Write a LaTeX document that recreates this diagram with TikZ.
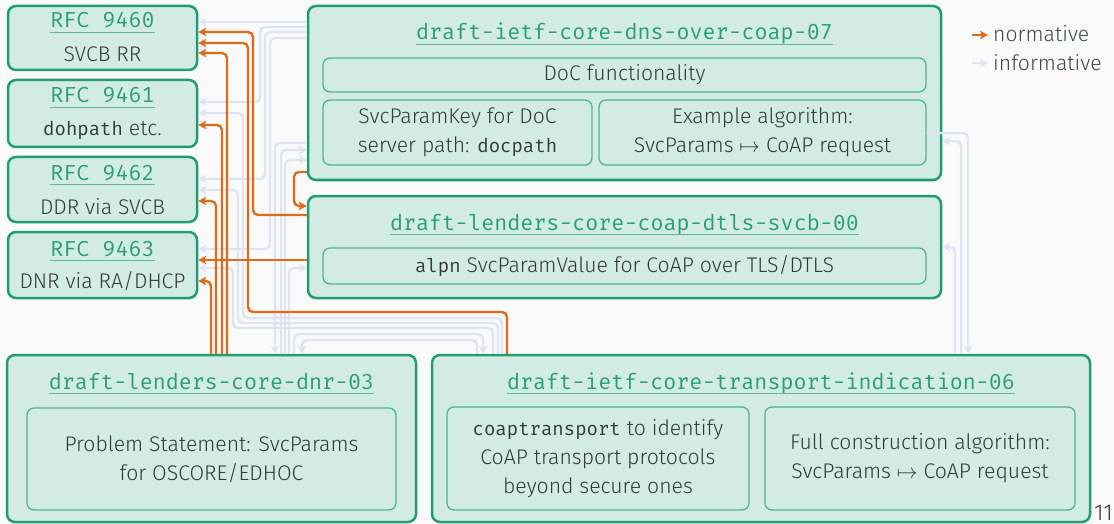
\documentclass[tikz,border=0pt]{standalone}
\usepackage{fontspec}
\usetikzlibrary{arrows.meta}
\IfFontExistsTF{Fira Sans Light}{\setmainfont{Fira Sans Light}}{\setmainfont{Fira Sans}}
\IfFontExistsTF{Fira Mono}{\newfontfamily\monof{Fira Mono}}{\newfontfamily\monof{DejaVu Sans Mono}}
\definecolor{bgc}{HTML}{FAFAFA}
\definecolor{gfill}{HTML}{D2ECE3}
\definecolor{gborder}{HTML}{229C73}
\definecolor{iborder}{HTML}{4DB68F}
\definecolor{tgreen}{HTML}{2A9F77}
\definecolor{txt}{HTML}{333A3A}
\definecolor{legc}{HTML}{3E4A4C}
\definecolor{corange}{HTML}{DF6A17}
\definecolor{cinfo}{HTML}{E0E4F2}
\newcommand\bodyfont{\fontsize{21.2}{29}\selectfont}
\newcommand\titlefont{\monof\fontsize{21.7}{26}\selectfont}
\newcommand\monotxt[1]{{\monof\fontsize{19}{29}\selectfont #1}}
\newcommand\ulnode[1]{\draw[ulne] ([yshift=-4.5pt]#1.base west) -- ([yshift=-4.5pt]#1.base east);}
\begin{document}
\begin{tikzpicture}[x=1pt,y=-1pt,
  outerbox/.style={draw=gborder,fill=gfill,line width=2.5pt,rounded corners=8pt,inner sep=0pt},
  innerbox/.style={draw=iborder,fill=gfill,line width=1.3pt,rounded corners=7pt,inner sep=0pt,align=center,font=\bodyfont,text=txt},
  ttl/.style={font=\titlefont,text=tgreen,inner sep=0pt,anchor=base},
  bodytxt/.style={font=\bodyfont,text=txt,inner sep=0pt,anchor=base},
  ulne/.style={draw=tgreen!75,line width=1.2pt},
  normline/.style={draw=corange,line width=2.4pt,rounded corners=5pt,-{Stealth[length=8pt,width=8.5pt,inset=2pt]}},
  infoline/.style={draw=cinfo,line width=2.4pt,rounded corners=5pt,-{Stealth[length=8pt,width=8.5pt,inset=2pt]}},
  legtxt/.style={font=\bodyfont,text=legc,inner sep=0pt,anchor=base west},
]
\fill[bgc] (0,0) rectangle (1114,524);
\useasboundingbox (0,0) rectangle (1114,524);

% RFC boxes
\node[outerbox,minimum width=189pt,minimum height=64pt] (r60) at (102.5,38) {};
\node[outerbox,minimum width=189pt,minimum height=67pt] (r61) at (102.5,113.5) {};
\node[outerbox,minimum width=189pt,minimum height=65pt] (r62) at (102.5,189.5) {};
\node[outerbox,minimum width=189pt,minimum height=66pt] (r63) at (102.5,265) {};
\node[ttl] (r60t) at (102.5,28) {RFC 9460};
\node[bodytxt] (r60b) at (102.5,62) {SVCB RR};
\node[ttl] (r61t) at (102.5,103) {RFC 9461};
\node[bodytxt] (r61b) at (102.5,136) {\monotxt{dohpath} etc.};
\node[ttl] (r62t) at (102.5,180) {RFC 9462};
\node[bodytxt] (r62b) at (102.5,214) {DDR via SVCB};
\node[ttl] (r63t) at (102.5,256) {RFC 9463};
\node[bodytxt] (r63b) at (102.5,288) {DNR via RA/DHCP};
\ulnode{r60t}\ulnode{r61t}\ulnode{r62t}\ulnode{r63t}

% dns-over-coap
\node[outerbox,minimum width=633pt,minimum height=174pt] (dns) at (624.5,93) {};
\node[ttl] (dnst) at (624.5,40) {draft-ietf-core-dns-over-coap-07};
\ulnode{dnst}
\node[innerbox,minimum width=603pt,minimum height=34pt] (doc) at (624.5,75) {DoC functionality};
\node[innerbox,minimum width=269pt,minimum height=65pt] (spk) at (457.5,132.5) {SvcParamKey for DoC\\server path: \monotxt{docpath}};
\node[innerbox,minimum width=327pt,minimum height=65pt] (ex) at (762.5,132.5) {Example algorithm:\\SvcParams $\mapsto$ CoAP request};

% dtls-svcb
\node[outerbox,minimum width=633pt,minimum height=102pt] (dtls) at (624.5,247) {};
\node[ttl] (dtlst) at (624.5,230) {draft-lenders-core-coap-dtls-svcb-00};
\ulnode{dtlst}
\node[innerbox,minimum width=603pt,minimum height=36pt] (alpn) at (624.5,266) {\monotxt{alpn} SvcParamValue for CoAP over TLS/DTLS};

% dnr
\node[outerbox,minimum width=409pt,minimum height=167pt] (dnr) at (211.5,438.5) {};
\node[ttl] (dnrt) at (211.5,389) {draft-lenders-core-dnr-03};
\ulnode{dnrt}
\node[innerbox,minimum width=369pt,minimum height=102pt] (prob) at (211.5,459) {Problem Statement: SvcParams\\for OSCORE/EDHOC};

% transport indication
\node[outerbox,minimum width=658pt,minimum height=167pt] (trans) at (761,438.5) {};
\node[ttl] (transt) at (761,389) {draft-ietf-core-transport-indication-06};
\ulnode{transt}
\node[innerbox,minimum width=302pt,minimum height=103pt] (ctr) at (598,458.5) {\monotxt{coaptransport} to identify\\CoAP transport protocols\\beyond secure ones};
\node[innerbox,minimum width=310pt,minimum height=103pt] (full) at (920,458.5) {Full construction algorithm:\\SvcParams $\mapsto$ CoAP request};

% informative connectors
\draw[infoline] (dns.west|-0,22) -- (r60.east|-0,22);
\draw[infoline] (dns.west|-0,27) -- (260,27) -- (260,102) -- (r61.east|-0,102);
\draw[infoline] (dns.west|-0,32) -- (265,32) -- (265,179) -- (r62.east|-0,179);
\draw[infoline] (dns.west|-0,38) -- (270,38) -- (270,249) -- (r63.east|-0,249);
\draw[infoline] (trans.north-|502,0) -- (502,318) -- (243,318) -- (243,113) -- (r61.east|-0,113);
\draw[infoline] (trans.north-|498,0) -- (498,323) -- (238,323) -- (238,190) -- (r62.east|-0,190);
\draw[infoline] (trans.north-|493,0) -- (493,328) -- (233,328) -- (233,268) -- (r63.east|-0,268);
\draw[infoline] (dns.west|-0,143) -- (275,143) -- (dnr.north-|275,0);
\draw[infoline] (dnr.north-|281,0) -- (281,150) -- (dns.west|-0,150);
\draw[infoline] (dnr.north-|285,0) -- (285,160) -- (dns.west|-0,160);
\draw[infoline] (dnr.north-|289,0) -- (289,268) -- (dtls.west|-0,268);
\draw[infoline] (dnr.north-|294,0) -- (294,334) -- (483,334) -- (trans.north-|483,0);
\draw[infoline] (trans.north-|477,0) -- (477,340) -- (302,340) -- (dnr.north-|302,0);
\draw[infoline] (ex.east|-0,133) -- (968,133) -- (trans.north-|968,0);
\draw[infoline] (trans.north-|961,0) -- (961,141) -- (dns.east|-0,141);
\draw[infoline] (trans.north-|955,0) -- (955,247) -- (dtls.east|-0,247);

% normative connectors
\draw[normline] (dtls.west|-0,215) -- (253,215) -- (253,32) -- (r60.east|-0,32);
\draw[normline] (trans.north-|507,0) -- (507,312) -- (248,312) -- (248,43) -- (r60.east|-0,43);
\draw[normline] (dnr.north-|227,0) -- (227,53) -- (r60.east|-0,53);
\draw[normline] (dnr.north-|222,0) -- (222,125) -- (r61.east|-0,125);
\draw[normline] (dnr.north-|216,0) -- (216,201) -- (r62.east|-0,201);
\draw[normline] (dtls.west|-0,260) -- (r63.east|-0,260);
\draw[normline] (dnr.north-|211,0) -- (211,281) -- (r63.east|-0,281);
\draw[normline] (dns.west|-0,172) -- (294,172) -- (294,206) -- (dtls.west|-0,206);

% legend
\node[legtxt] (legn) at (993,42) {normative};
\node[legtxt] (legi) at (993,71) {informative};
\coordinate (ln0) at (972,35);
\coordinate (li0) at (972,63);
\draw[normline,rounded corners=0pt] (ln0) -- ([xshift=-5pt]legn.west|-ln0);
\draw[infoline,rounded corners=0pt] (li0) -- ([xshift=-5pt]legi.west|-li0);

% page number
\node[font=\fontsize{23}{26}\selectfont,text=txt,inner sep=0pt,anchor=base east] (pno) at (1113,520) {11};
\end{tikzpicture}
\end{document}
